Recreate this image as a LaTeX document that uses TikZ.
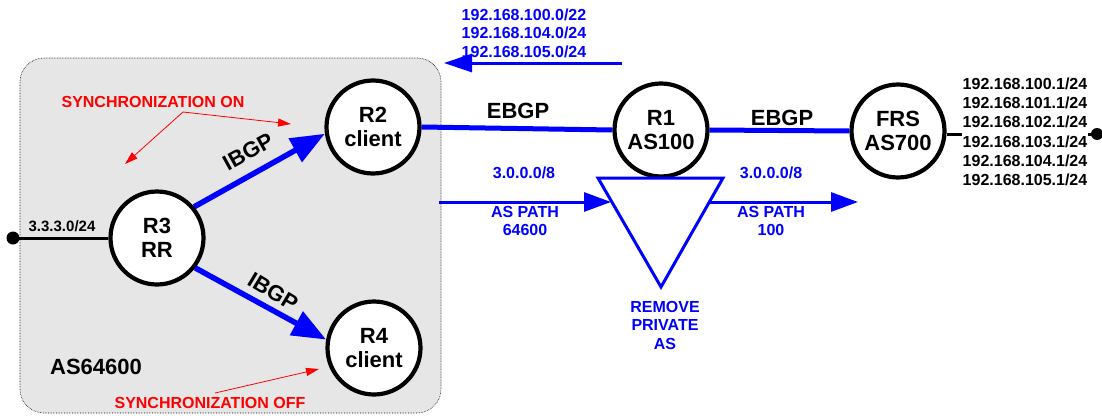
\documentclass[tikz,border=0pt]{standalone}
\usepackage{fontspec}
\setmainfont{Liberation Sans}
\usetikzlibrary{arrows.meta}
\definecolor{bblue}{RGB}{0,0,255}
\definecolor{rred}{RGB}{255,0,0}
\definecolor{boxgray}{RGB}{230,230,230}
\tikzset{
  router/.style={circle,draw=black,line width=4.2pt,fill=white,minimum size=93pt,inner sep=0pt,align=center,font=\fontsize{22}{24}\selectfont\bfseries},
  ibgp/.style={bblue,line width=5.5pt,-{Triangle[length=34pt,width=26pt]}},
  ebgp/.style={bblue,line width=5pt},
  barrow/.style={bblue,line width=3pt,-{Triangle[length=27pt,width=19pt]}},
  rarrow/.style={rred,line width=0.8pt,-{Triangle[length=13pt,width=8pt]}},
  btext/.style={text=bblue,font=\fontsize{16}{18.5}\selectfont\bfseries,align=center,inner sep=0pt},
  rtext/.style={text=rred,font=\fontsize{16}{18}\selectfont\bfseries,inner sep=0pt},
  ktext/.style={text=black,font=\fontsize{16}{19.3}\selectfont\bfseries,align=center,inner sep=0pt},
  bigtext/.style={text=black,font=\fontsize{22}{24}\selectfont\bfseries,inner sep=0pt},
}
\begin{document}
\begin{tikzpicture}[x=1pt,y=-1pt]
\useasboundingbox (0,0) rectangle (1102,415);
% AS box
\draw[fill=boxgray,draw=black,densely dotted,line width=0.6pt,rounded corners=24pt] (20,58) rectangle (441,413);
% routers
\node[router] (R3) at (157,238) {R3\\RR};
\node[router] (R2) at (373,127) {R2\\client};
\node[router] (R4) at (374,348) {R4\\client};
\node[router] (R1) at (661,130) {R1\\AS100};
\node[router] (FRS) at (898,131) {FRS\\AS700};
% left stub
\fill (13,238) circle (6.5pt);
\coordinate (ldot) at (13,238);
\draw[line width=3pt] (ldot) -- (R3.west |- ldot);
\node[font=\fontsize{15}{16}\selectfont\bfseries,inner sep=0pt] (net3) at (62,226) {3.3.3.0/24};
% right stub
\coordinate (rdot) at (1097,134);
\draw[line width=3pt] (FRS.east |- rdot) -- (rdot);
\fill (rdot) circle (6pt);
\node[ktext,fill=white,inner sep=1pt] (nets) at (1025,132) {192.168.100.1/24\\192.168.101.1/24\\192.168.102.1/24\\192.168.103.1/24\\192.168.104.1/24\\192.168.105.1/24};
% IBGP
\draw[ibgp] (R3.40) -- (R2.188);
\draw[ibgp] (R3.-38) -- (R4.170);
\node[bigtext,rotate=29] (ib1) at (248,152) {IBGP};
\node[bigtext,rotate=-31] (ib2) at (273,292) {IBGP};
% EBGP
\draw[ebgp] (R2.east) -- (R1.west);
\draw[ebgp] (R1.east) -- (FRS.west);
\node[bigtext] (eb1) at (518,111) {EBGP};
\node[bigtext] (eb2) at (782,118) {EBGP};
% top advertisement arrow
\coordinate (adS) at (622,63);
\coordinate (adE) at (444,63);
\draw[barrow,-{Triangle[length=28pt,width=18pt]}] (adS) -- (adE);
\node[btext] (adv) at (524,33) {192.168.100.0/22\\192.168.104.0/24\\192.168.105.0/24};
% triangle
\coordinate (tA) at (598,178);
\coordinate (tB) at (723,178);
\coordinate (tC) at (661,287);
\draw[bblue,line width=3pt,line join=miter] (tA) -- (tB) -- (tC) -- cycle;
\coordinate (inS) at (439,202);
\coordinate (inE) at (611,202);
\coordinate (outS) at (709,202);
\coordinate (outE) at (858,202);
\draw[barrow] (inS) -- (inE);
\draw[barrow] (outS) -- (outE);
\node[btext] (p1) at (524,173) {3.0.0.0/8};
\node[btext] (p1b) at (525,221) {AS PATH\\64600};
\node[btext] (p2) at (771,173) {3.0.0.0/8};
\node[btext] (p2b) at (771,221) {AS PATH\\100};
\node[btext] (rm) at (665,325) {REMOVE\\PRIVATE\\AS};
% synchronization
\node[rtext] (son) at (153,102) {SYNCHRONIZATION ON};
\coordinate (sonA) at (183,112);
\coordinate (sonL) at (125,164);
\coordinate (sonR) at (291,124);
\draw[rarrow] (sonA) -- (sonL);
\draw[rarrow] (sonA) -- (sonR);
\node[rtext] (soff) at (210,403) {SYNCHRONIZATION OFF};
\coordinate (soffA) at (215,393);
\coordinate (soffB) at (319,369);
\draw[rarrow] (soffA) -- (soffB);
\node[bigtext] (as) at (96,367) {AS64600};
\end{tikzpicture}
\end{document}
